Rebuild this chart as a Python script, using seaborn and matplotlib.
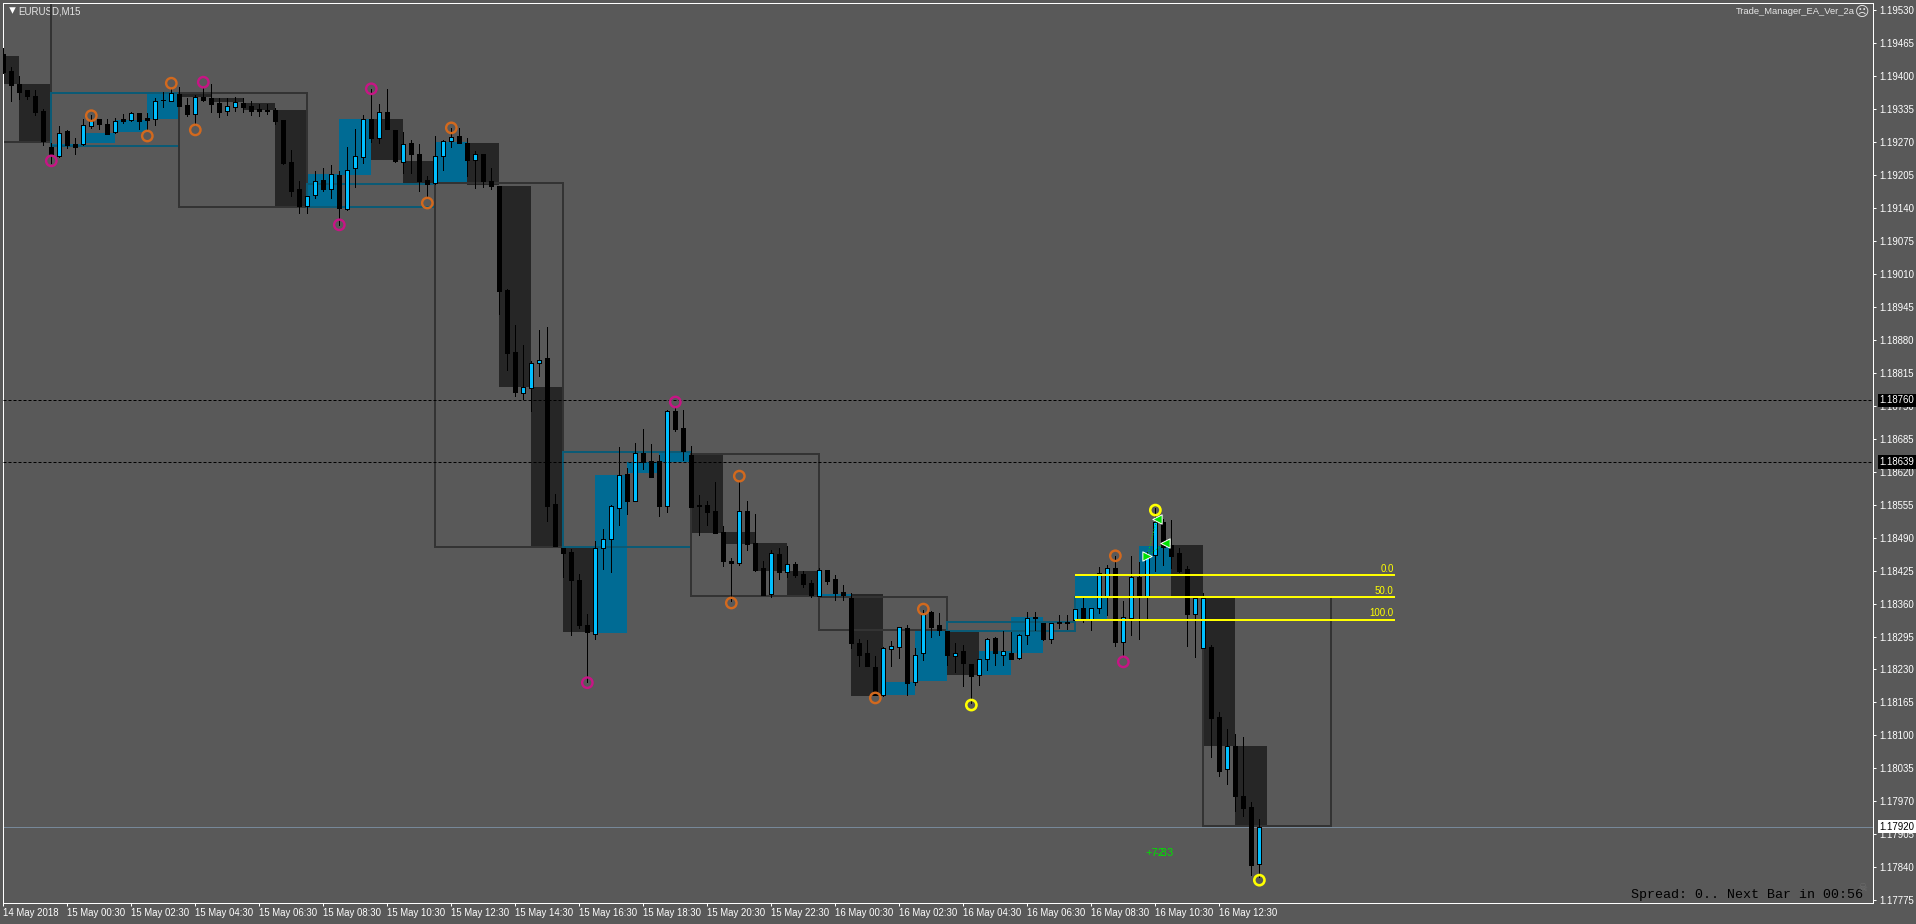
import numpy as np
import pandas as pd
import matplotlib
matplotlib.use("Agg")
import matplotlib.pyplot as plt
import seaborn as sns

sns.set_theme(style="dark")
plt.rcParams['font.family'] = ['Liberation Sans', 'DejaVu Sans']

BG = '#595959'

# ============================================================
#                  M15 CANDLES (points, 19443 = 1.19443)
# ============================================================
opens = [19443,19410,19384,19372,19360,19330,19260,19242,19291,19265,
         19266,19301,19314,19305,19288,19315,19313,19326,19316,19315,
         19352,19349,19364,19342,19325,19357,19355,19346,19331,19339,
         19346,19340,19334,19332,19332,19313,19230,19176,19143,19164,
         19194,19176,19204,19137,19217,19240,19314,19277,19328,19293,
         19230,19267,19246,19194,19188,19242,19272,19281,19267,19233,
         19246,19192,19183,18978,18856,18775,18785,18833,18843,18556,
         18469,18461,18406,18318,18299,18470,18488,18549,18615,18561,
         18656,18640,18640,18552,18739,18705,18653,18554,18554,18542,
         18500,18444,18439,18542,18479,18429,18378,18458,18423,18438,
         18418,18401,18375,18427,18408,18383,18370,18282,18262,18234,
         18179,18271,18274,18312,18206,18262,18343,18317,18305,18257,
         18266,18240,18219,18250,18292,18259,18262,18252,18297,18333,
         18322,18291,18324,18324,18328,18351,18330,18351,18374,18430,
         18285,18331,18413,18375,18455,18521,18475,18459,18428,18340,
         18273,18274,18136,18033,18079,17981,17959,17846]
highs = [19454,19416,19399,19372,19372,19334,19267,19301,19293,19278,
         19314,19322,19314,19314,19316,19324,19328,19326,19326,19355,
         19368,19375,19377,19355,19362,19375,19384,19355,19355,19357,
         19355,19349,19345,19344,19336,19313,19254,19192,19163,19213,
         19218,19224,19212,19259,19295,19322,19373,19345,19373,19293,
         19289,19273,19265,19202,19281,19273,19296,19296,19278,19252,
         19246,19218,19183,18979,18909,18869,18838,18899,18905,18576,
         18469,18467,18418,18339,18483,18507,18554,18668,18626,18676,
         18704,18674,18653,18741,18745,18741,18670,18574,18562,18600,
         18513,18450,18603,18562,18536,18443,18466,18469,18473,18441,
         18424,18406,18429,18427,18416,18397,18380,18290,18288,18257,
         18275,18286,18314,18318,18272,18347,18345,18341,18305,18282,
         18278,18240,18250,18292,18295,18305,18303,18299,18343,18343,
         18322,18322,18337,18337,18349,18370,18351,18431,18436,18454,
         18364,18454,18442,18462,18548,18526,18525,18469,18434,18374,
         18380,18278,18146,18113,18103,18098,17968,17936]
lows = [19406,19349,19353,19353,19322,19263,19227,19240,19258,19246,
        19263,19296,19295,19285,19286,19306,19311,19294,19290,19303,
        19339,19349,19340,19321,19303,19349,19329,19319,19322,19331,
        19329,19322,19321,19324,19305,19226,19162,19130,19129,19158,
        19173,19158,19106,19135,19181,19227,19270,19267,19294,19230,
        19209,19209,19173,19160,19187,19214,19260,19267,19202,19179,
        19181,19177,18930,18820,18769,18763,18740,18808,18523,18474,
        18413,18298,18312,18206,18290,18428,18422,18515,18536,18561,
        18625,18609,18533,18541,18699,18643,18551,18494,18515,18498,
        18433,18364,18436,18466,18425,18377,18372,18408,18413,18413,
        18393,18372,18374,18399,18366,18367,18273,18236,18236,18180,
        18178,18236,18252,18179,18200,18249,18295,18298,18239,18225,
        18198,18164,18200,18229,18239,18239,18251,18250,18280,18308,
        18288,18282,18311,18310,18328,18324,18308,18341,18337,18277,
        18255,18297,18290,18329,18425,18436,18429,18422,18277,18255,
        18273,18058,18020,18004,17952,17941,17825,17822]
closes = [19408,19382,19368,19359,19329,19272,19244,19286,19263,19259,
          19302,19311,19305,19285,19311,19311,19326,19311,19313,19349,
          19351,19365,19340,19324,19357,19351,19345,19328,19340,19347,
          19338,19331,19331,19331,19311,19227,19173,19143,19163,19192,
          19177,19206,19139,19215,19241,19314,19278,19328,19294,19232,
          19265,19246,19192,19187,19242,19271,19280,19268,19234,19245,
          19193,19183,18976,18854,18777,18786,18833,18839,18553,18474,
          18460,18407,18318,18303,18470,18487,18552,18613,18561,18657,
          18638,18609,18552,18739,18703,18661,18551,18552,18541,18498,
          18443,18439,18542,18477,18426,18377,18459,18423,18437,18416,
          18399,18377,18427,18405,18381,18377,18282,18259,18236,18180,
          18272,18276,18313,18204,18259,18341,18314,18308,18259,18263,
          18242,18218,18250,18291,18262,18266,18251,18297,18332,18331,
          18290,18322,18321,18322,18349,18329,18351,18420,18429,18285,
          18333,18413,18374,18454,18521,18472,18454,18424,18340,18370,
          18370,18135,18031,18079,17981,17958,17844,17920]

# ============================================================
#                  H1 BLOCKS (every 4 bars, from bar -2)
# ============================================================
h1_open = [19439,19384,19259,19267,19289,19315,19366,19356,19346,19332,
           19141,19204,19315,19232,19188,19267,19183,18787,18471,18302,
           18617,18639,18655,18501,18479,18424,18373,18379,18180,18207,
           18304,18219,18263,18324,18330,18373,18416,18475,18373,18079]
h1_close = [19384,19267,19265,19287,19313,19364,19358,19348,19332,19139,
            19206,19315,19234,19188,19269,19184,18787,18471,18304,18613,
            18639,18657,18499,18477,18424,18373,18379,18178,18205,18306,
            18219,18266,18333,18324,18372,18373,18473,18373,18079,17922]
h1_extra_start, h1_extra_end = 134, 137
h1_extra_open, h1_extra_close = 18373, 18416

# ============================================================
#                  H4 BOXES (every 16 bars, from bar -10)
# ============================================================
h4_open = [19600,19261,19366,19141,19188,18471,18655,18373,18306,18328,18373]
h4_close = [19269,19366,19141,19187,18471,18659,18375,18308,18324,18373,17922]

# ============================================================
#                  RINGS, LEVELS AND LABELS
# ============================================================
orange_bar = [11,18,21,24,53,56,91,92,109,115,139]
orange_pts = [19321,19281,19385,19293,19149,19297,18361,18611,18174,18349,18454]
magenta_bar = [6,25,42,46,73,84,140]
magenta_pts = [19232,19387,19106,19374,18204,18757,18245]
yellow_bar = [121,144,157]
yellow_pts = [18160,18544,17815]

fib_levels = [18416,18372,18328]
fib_labels = ['0.0','50.0','100.0']
dotted_levels = [18760,18639]
bid_level = 17920

trade_bar = [143,144.2,145.2]
trade_pts = [18454,18527,18479]

y_ticks = [19530,19465,19400,19335,19270,19205,19140,19075,19010,18945,18880,18815,
           18750,18685,18620,18555,18490,18425,18360,18295,18230,18165,18100,18035,
           17970,17905,17840,17775]
x_labels = ['14 May 2018','15 May 00:30','15 May 02:30','15 May 04:30','15 May 06:30',
            '15 May 08:30','15 May 10:30','15 May 12:30','15 May 14:30','15 May 16:30',
            '15 May 18:30','15 May 20:30','15 May 22:30','16 May 00:30','16 May 02:30',
            '16 May 04:30','16 May 06:30','16 May 08:30','16 May 10:30','16 May 12:30']

df = pd.DataFrame({'o': opens, 'h': highs, 'l': lows, 'c': closes})
df['bar'] = df.index
up = df[df.c >= df.o]
down = df[df.c < df.o]

# ============================================================
#                  FIGURE
# ============================================================
W, H = 1916, 924
fig = plt.figure(figsize=(W/100, H/100), dpi=100, facecolor=BG)
ax = fig.add_axes([2.5/W, 1-903/H, (1873-2.5)/W, (903-2.5)/H], facecolor=BG)
ax.set_xlim(-0.1, 233.7)
ax.set_ylim(17770, 19544)

PX = 0.72

# H1 filled blocks
h1_start = np.arange(len(h1_open))*4 - 2
for s, o, c in zip(h1_start, h1_open, h1_close):
    ax.bar(s, abs(c-o), bottom=min(o, c), width=4, align='edge', linewidth=0,
           color='#006B94' if c > o else '#262626', zorder=1, antialiased=False)
ax.bar(h1_extra_start, h1_extra_close-h1_extra_open, bottom=h1_extra_open,
       width=h1_extra_end-h1_extra_start, align='edge', linewidth=0,
       color='#006B94', zorder=1, antialiased=False)

# H4 outlined boxes
h4_start = np.arange(len(h4_open))*16 - 10
for s, o, c in zip(h4_start, h4_open, h4_close):
    ax.bar(s, abs(c-o), bottom=min(o, c), width=16, align='edge', fill=False,
           edgecolor='#0B5A75' if c > o else '#333333', linewidth=2*PX, zorder=2,
           antialiased=False)

# candles
ax.vlines(df.bar, df.l, df.h, color='black', linewidth=PX, zorder=3, antialiased=False)
ax.bar(down.bar, down.o-down.c, bottom=down.c, width=0.5, color='black',
       edgecolor='black', linewidth=PX, zorder=4, antialiased=False)
ax.bar(up.bar, up.c-up.o, bottom=up.o, width=0.5, color='#00BFFF',
       edgecolor='black', linewidth=PX, zorder=4, antialiased=False)

# rings
for bars, pts, col, size, lw in [(orange_bar, orange_pts, '#D2691E', 56, 2.4),
                                 (magenta_bar, magenta_pts, '#C71585', 56, 2.4),
                                 (yellow_bar, yellow_pts, '#FFFF00', 54, 2.6)]:
    sns.scatterplot(x=bars, y=pts, ax=ax, s=size, color=col, edgecolor=col,
                    facecolor='none', linewidth=lw*PX, zorder=6, legend=False)

# levels
for lev in dotted_levels:
    ax.axhline(lev, color='black', linewidth=PX, dashes=(3, 2), zorder=5)
ax.axhline(bid_level, color='#778899', linewidth=PX, zorder=1.5)

# fibonacci
ax.hlines(fib_levels, 134, 174, color='#FFFF00', linewidth=2*PX, zorder=7, antialiased=False)
for lev, lab in zip(fib_levels, fib_labels):
    ax.text(173.8, lev+3, lab, color='#FFFF00', fontsize=7, ha='right', va='bottom', zorder=7)

# trade arrows
sns.lineplot(x=trade_bar[:2], y=trade_pts[:2], ax=ax, color='#00E000', linewidth=PX,
             linestyle=':', zorder=6, legend=False, errorbar=None)
sns.lineplot(x=[trade_bar[0], trade_bar[2]], y=[trade_pts[0], trade_pts[2]], ax=ax,
             color='#00E000', linewidth=PX, linestyle=':', zorder=6, legend=False, errorbar=None)
ax.scatter(trade_bar[0], trade_pts[0], marker='>', s=45, color='#00E000', edgecolor='white',
           linewidth=PX, zorder=8)
ax.scatter(trade_bar[1:], trade_pts[1:], marker='<', s=45, color='#00E000', edgecolor='white',
           linewidth=PX, zorder=8)

# profit labels drawn over each other
ax.text(142.7, 17868, '+7.3', color='#00E000', fontsize=8, ha='left', va='center', zorder=7)
ax.text(143.9, 17868, '-2.3', color='#00E000', fontsize=8, ha='left', va='center', zorder=7)

# ============================================================
#                  AXES
# ============================================================
for side in ax.spines:
    ax.spines[side].set_color('white')
    ax.spines[side].set_linewidth(PX)
ax.grid(False)
ax.yaxis.tick_right()
ax.set_yticks(y_ticks)
ax.set_yticklabels([f"1.{v}" for v in y_ticks])
ax.set_xticks(np.arange(len(x_labels))*8)
ax.set_xticklabels(x_labels, ha='left')
ax.tick_params(axis='both', colors='white', length=2.2, width=PX, labelsize=6.9, right=True,
               bottom=True, left=False, pad=2.5)
ax.tick_params(axis='x', pad=1.2)

# price tags on the scale
tag_tf = ax.get_yaxis_transform()
for lev in dotted_levels:
    ax.text(1.0033, lev, f"1.{lev}", transform=tag_tf, color='white', fontsize=6.9, va='center',
            ha='left', zorder=9, clip_on=False,
            bbox=dict(facecolor='black', edgecolor='none', pad=1.2))
ax.text(1.0033, bid_level, f"1.{bid_level}", transform=tag_tf, color='black', fontsize=6.9,
        va='center', ha='left', zorder=9, clip_on=False,
        bbox=dict(facecolor='white', edgecolor='none', pad=1.2))

# ============================================================
#                  TEXT ON THE CHART WINDOW
# ============================================================
def px_text(x, y, s, **kw):
    fig.text(x/W, 1-y/H, s, va='center', **kw)

ax.scatter([0.005], [0.9915], transform=ax.transAxes, marker='v', s=22, color='white',
           linewidth=0, zorder=1)
# box line of the first H4 bar crosses this label, so it sits under the boxes
ax.text(18/W, 1-11/H, 'EURUSD,M15', transform=fig.transFigure, color='#E6E6E6', fontsize=7,
        ha='left', va='center', zorder=0.5)
px_text(1855, 12, 'Trade_Manager_EA_Ver_2a', color='#E6E6E6', fontsize=6.75, ha='right')
px_text(1862.5, 12, '\u2639', color='#E6E6E6', fontsize=10, ha='center', family='DejaVu Sans')
px_text(1863, 895, 'Spread: 0.. Next Bar in 00:56', color='black', fontsize=9.6, ha='right',
        family='Liberation Mono')
px_text(1862, 888, '\u2620', color='#6E6E6E', fontsize=8, ha='center', family='DejaVu Sans')

fig.savefig('out.png', dpi=100, facecolor=BG)
